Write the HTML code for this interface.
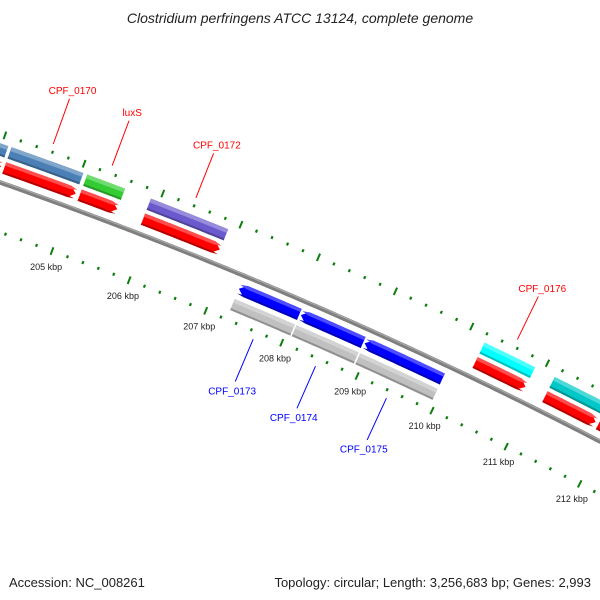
<!DOCTYPE html>
<html><head><meta charset="utf-8"><style>
html,body{margin:0;padding:0;background:#fff;}
svg{display:block;font-family:"Liberation Sans","DejaVu Sans",sans-serif;}
</style></head><body>
<svg id="map" width="600" height="600" viewBox="0 0 600 600" xmlns="http://www.w3.org/2000/svg">
<rect width="600" height="600" fill="#fff"/>
<text x="300" y="23" text-anchor="middle" font-size="14" font-style="italic" fill="#222">Clostridium perfringens ATCC 13124, complete genome</text>
<g id="plot"></g>
<text x="9" y="587" font-size="13" fill="#222">Accession: NC_008261</text>
<text x="591" y="587" text-anchor="end" font-size="13" fill="#222">Topology: circular; Length: 3,256,683 bp; Genes: 2,993</text>
</svg>
<script>
// ---- data ----
const geneNames = ["CPF_0169","CPF_0170","luxS","CPF_0172","CPF_0173","CPF_0174","CPF_0175","CPF_0176","CPF_0177","CPF_0178"];
const geneStarts = [203.20, 204.12, 205.08, 205.89, 207.27, 208.08, 208.92, 210.22, 211.15, 211.87];
const geneEnds   = [204.08, 205.03, 205.56, 206.88, 208.06, 208.90, 209.95, 210.89, 211.83, 212.80];
const geneStrands = [1, 1, 1, 1, -1, -1, -1, 1, 1, 1];
const cogColors = ["#4a80b5","#4a80b5","#33cc33","#6a5acd","#c0c0c0","#c0c0c0","#c0c0c0","#00ffff","#00c8c8","#00c8c8"];
const geneLabeled = [false, true, true, true, true, true, true, true, false, false];
const majorTicks = [203,204,205,206,207,208,209,210,211,212,213];
const tickLabels = ["203 kbp","204 kbp","205 kbp","206 kbp","207 kbp","208 kbp","209 kbp","210 kbp","211 kbp","212 kbp","213 kbp"];

// ---- geometry (circular axis) ----
const CX = -1541, CY = 4576, R0 = 4656;
const DEG_PER_KBP = 1.025, ANG0 = -69.78, POS0 = 205;
function ang(kbp){ return (ANG0 + (kbp - POS0) * DEG_PER_KBP) * Math.PI / 180; }
function pt(r, kbp){ const a = ang(kbp); return [CX + r*Math.cos(a), CY + r*Math.sin(a)]; }
function ptA(r, a){ return [CX + r*Math.cos(a), CY + r*Math.sin(a)]; }
const NS = "http://www.w3.org/2000/svg";
const plot = document.getElementById("plot");
function mk(tag, attrs, parent){ const e = document.createElementNS(NS, tag); for (const k in attrs) e.setAttribute(k, attrs[k]); (parent||plot).appendChild(e); return e; }
function fmt(p){ return p[0].toFixed(2)+","+p[1].toFixed(2); }
function arcPts(r, a1, a2){ const n = Math.max(2, Math.ceil(Math.abs(a2-a1)*180/Math.PI/0.05)); const o=[]; for(let i=0;i<=n;i++){ o.push(ptA(r, a1+(a2-a1)*i/n)); } return o; }
function bandPoly(r1, r2, a1, a2){ return arcPts(r2,a1,a2).concat(arcPts(r1,a2,a1)); }
function arrowPoly(r1, r2, a1, a2, dir){
  const head = 7 / ((r1+r2)/2);
  const rm = (r1+r2)/2;
  if (dir > 0){
    const ah = Math.max(a1, a2-head);
    return arcPts(r2,a1,ah).concat([ptA(rm,a2)], arcPts(r1,ah,a1));
  } else {
    const ah = Math.min(a2, a1+head);
    return [ptA(rm,a1)].concat(arcPts(r2,ah,a2), arcPts(r1,a2,ah));
  }
}
function lighten(hex, f){ const n=parseInt(hex.slice(1),16); let r=n>>16,g=(n>>8)&255,b=n&255; r=Math.round(r+(255-r)*f); g=Math.round(g+(255-g)*f); b=Math.round(b+(255-b)*f); return "rgb("+r+","+g+","+b+")"; }
function darken(hex, f){ const n=parseInt(hex.slice(1),16); let r=n>>16,g=(n>>8)&255,b=n&255; return "rgb("+Math.round(r*(1-f))+","+Math.round(g*(1-f))+","+Math.round(b*(1-f))+")"; }

// backbone
const bb = mk("polyline", {points: arcPts(R0, ang(202.5), ang(213.5)).map(fmt).join(" "), fill:"none", stroke:"#7f7f7f", "stroke-width":"4.5"});


const bbh = mk("polyline", {points: arcPts(R0+1.2, ang(202.5), ang(213.5)).map(fmt).join(" "), fill:"none", stroke:"#a8a8a8", "stroke-width":"1.2"});



// ticks
const tickG = mk("g", {});


for (let i = 0; i <= 55; i++){
  const kbp = 203 + i*0.2;
  const major = (i % 5 === 0);
  const len = major ? 8 : 3;
  [4702, 4609].forEach(function(rr){
    const p1 = pt(rr - len/2, kbp), p2 = pt(rr + len/2, kbp);
    const t = mk("line", {x1:p1[0], y1:p1[1], x2:p2[0], y2:p2[1], stroke:"#0d7d0d", "stroke-width": major ? 2 : 2.2}, tickG);
    
    
  });
}
majorTicks.forEach(function(k, i){
  const p = pt(4592, k);
  const t = mk("text", {x:p[0], y:p[1]+3, "text-anchor":"middle", "font-size":"9", fill:"#222"});
  t.textContent = tickLabels[i];
  
  
});

// features
geneNames.forEach(function(name, i){
  const s = geneStarts[i], e = geneEnds[i], d = geneStrands[i];
  const a1 = ang(s), a2 = ang(e);
  const g = mk("g", {});
  
  
  const cdsR = d > 0 ? [4665, 4677] : [4636, 4648];
  const cogR = d > 0 ? [4681, 4693] : [4619, 4631];
  const cdsCol = d > 0 ? "#ff0000" : "#0000ff";
  // COG bar
  const cog = mk("polygon", {points: bandPoly(cogR[0], cogR[1], a1, a2).map(fmt).join(" "), fill: cogColors[i]}, g);
  
  
  const cogHi = mk("polygon", {points: bandPoly(cogR[1]-4, cogR[1], a1, a2).map(fmt).join(" "), fill: lighten(cogColors[i], 0.3)}, g);
  
  
  const cogSh = mk("polygon", {points: bandPoly(cogR[0], cogR[0]+2, a1, a2).map(fmt).join(" "), fill: darken(cogColors[i], 0.25)}, g);
  
  
  // CDS arrow
  const cds = mk("polygon", {points: arrowPoly(cdsR[0], cdsR[1], a1, a2, d).map(fmt).join(" "), fill: cdsCol}, g);
  
  
  const cdsHi = mk("polygon", {points: arrowPoly(cdsR[1]-3.5, cdsR[1], a1, a2, d).map(fmt).join(" "), fill: lighten(cdsCol, 0.3)}, g);
  
  
  const cdsSh = mk("polygon", {points: arrowPoly(cdsR[0], cdsR[0]+2, a1, a2, d).map(fmt).join(" "), fill: darken(cdsCol, 0.3)}, g);
  
  
  // label
  if (geneLabeled[i]){
    const mid = (s + e) / 2;
    const col = d > 0 ? "#ff0000" : "#0000ff";
    const rA = d > 0 ? 4710 : 4601, rB = d > 0 ? 4758 : 4555, rT = d > 0 ? 4767 : 4547;
    const p1 = pt(rA, mid), p2 = pt(rB, mid), pT = pt(rT, mid);
    const ln = mk("line", {x1:p1[0], y1:p1[1], x2:p2[0], y2:p2[1], stroke: col, "stroke-width":"1"});
    
    
    const tx = mk("text", {x:pT[0], y:pT[1]+(d>0?3.5:5.5), "text-anchor":"middle", "font-size":"10", fill: col});
    tx.textContent = name;
    
    
  }
});
</script>
</body></html>
